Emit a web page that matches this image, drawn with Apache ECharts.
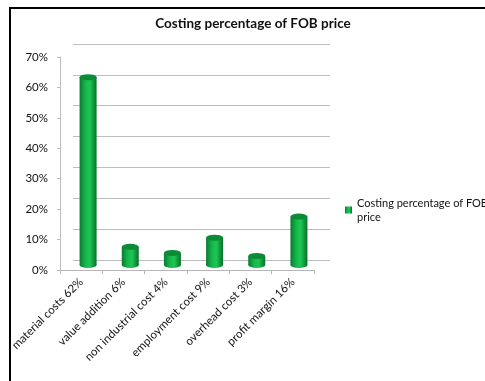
<!DOCTYPE html>
<html lang="en">
<head>
  <meta charset="UTF-8">
  <title>Costing percentage of FOB price</title>
</head>
<body style="margin:0; background:#fff;">
<div id="main" style="width:485px; height:381px;"></div>

<script src="https://cdn.jsdelivr.net/npm/echarts@6/dist/echarts.min.js"></script>
<script>
  // data
  var categories = ['material costs 62%', 'value addition 6%', 'non industrial cost 4%',
                    'employment cost 9%', 'overhead cost 3%', 'profit margin 16%'];
  var values = [62, 6, 4, 9, 3, 16];
  var seriesName = 'Costing percentage of FOB price';
  var yTicks = [0, 10, 20, 30, 40, 50, 60, 70];

  var chart = echarts.init(document.getElementById('main'));
  var font = 'Lato, "Open Sans", sans-serif';

  var bodyColor = new echarts.graphic.LinearGradient(0, 0, 1, 0, [
    { offset: 0, color: '#0a7a30' },
    { offset: 0.35, color: '#14b84a' },
    { offset: 0.6, color: '#1ec655' },
    { offset: 1, color: '#077028' }
  ]);

  var option = {
    backgroundColor: '#fff',
    animation: false,
    title: {
      text: 'Costing percentage of FOB price',
      left: 248,
      textAlign: 'center',
      top: 12,
      textStyle: { fontFamily: font, fontSize: 13.5, fontWeight: 'bold', color: '#111' }
    },
    legend: {
      left: 340,
      top: 191,
      itemWidth: 7,
      itemHeight: 7,
      itemGap: 4,
      data: [{ name: seriesName, icon: 'rect' }],
      formatter: function () { return 'Costing percentage of FOB\nprice'; },
      textStyle: { fontFamily: font, fontSize: 11, color: '#111', lineHeight: 14 }
    },
    graphic: [
      // outer frame (left and top edges visible)
      { type: 'rect', shape: { x: 9, y: 7, width: 2, height: 374 }, style: { fill: '#000' } },
      { type: 'rect', shape: { x: 9, y: 7, width: 476, height: 2 }, style: { fill: '#000' } }
    ],
    grid: [
      // back wall (gridlines only)
      { left: 73, right: 155, top: 44, bottom: 121 },
      // bars
      { left: 67, right: 165, top: 53, bottom: 116 },
      // front axes and labels
      { left: 60, right: 171, top: 57, bottom: 111 }
    ],
    xAxis: [
      { gridIndex: 0, type: 'category', data: categories, show: false },
      { gridIndex: 1, type: 'category', data: categories, show: false },
      {
        gridIndex: 2, type: 'category', data: categories,
        axisLine: { lineStyle: { color: '#b5b5b5' } },
        axisTick: { show: true, length: 4, lineStyle: { color: '#b5b5b5' } },
        axisLabel: {
          rotate: 45, margin: 10, interval: 0,
          fontFamily: font, fontSize: 11.5, color: '#111'
        }
      }
    ],
    yAxis: [
      {
        gridIndex: 0, type: 'value', min: 0, max: 70, interval: 10,
        axisLine: { show: false }, axisTick: { show: false }, axisLabel: { show: false },
        splitLine: { lineStyle: { color: '#bdbdbd', width: 1 } }
      },
      { gridIndex: 1, type: 'value', min: 0, max: 70, interval: 10, show: false },
      {
        gridIndex: 2, type: 'value', min: 0, max: 70, interval: 10,
        axisLine: { show: true, lineStyle: { color: '#bdbdbd' } },
        axisTick: { show: true, length: 3, lineStyle: { color: '#bdbdbd' } },
        splitLine: { show: false },
        axisLabel: {
          margin: 12, fontFamily: font, fontSize: 11.5, color: '#111',
          formatter: function (v) { return yTicks.indexOf(v) >= 0 ? v + '%' : ''; }
        }
      }
    ],
    series: [
      {
        name: seriesName,
        type: 'bar',
        xAxisIndex: 1, yAxisIndex: 1,
        barWidth: 17,
        itemStyle: { color: bodyColor },
        data: values,
        z: 2
      },
      {
        // bottom of the cylinder
        type: 'pictorialBar',
        xAxisIndex: 1, yAxisIndex: 1,
        symbol: 'circle',
        symbolSize: [17, 6],
        symbolPosition: 'start',
        symbolOffset: [0, '50%'],
        itemStyle: { color: bodyColor },
        data: values,
        z: 1
      },
      {
        // top of the cylinder
        type: 'pictorialBar',
        xAxisIndex: 1, yAxisIndex: 1,
        symbol: 'circle',
        symbolSize: [17, 6],
        symbolPosition: 'end',
        symbolOffset: [0, '-50%'],
        itemStyle: { color: '#0d8a36' },
        data: values,
        z: 3
      }
    ]
  };

  chart.setOption(option);
</script>
</body>
</html>
